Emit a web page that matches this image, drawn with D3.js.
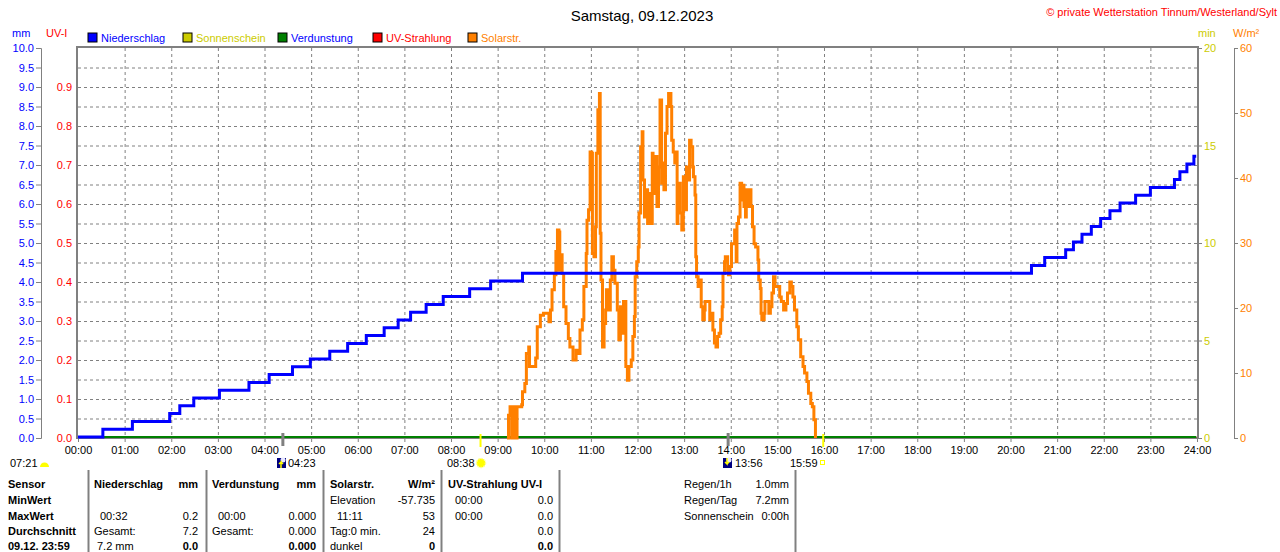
<!DOCTYPE html>
<html>
<head>
<meta charset="utf-8">
<title>Samstag, 09.12.2023</title>
<style>
  body { margin: 0; background: #fff; }
  svg { display: block; font-family: "Liberation Sans", Arial, sans-serif; font-size: 11px; }
  .grid line { stroke: #808080; stroke-dasharray: 3,3; }
  .axis path, .axis line { stroke: #808080; }
  .axis text { font-size: 11px; font-family: "Liberation Sans", Arial, sans-serif; }
  .tbl text { font-size: 11px; fill: #000; }
</style>
</head>
<body>
<svg id="chart" width="1280" height="552"></svg>

<script src="https://cdn.jsdelivr.net/npm/d3@7/dist/d3.min.js"></script>
<script>
  // Niederschlag, cumulative mm
  const rainTimes = ["00:00", "00:32", "01:10", "01:58", "02:11", "02:29", "03:02", "03:40", "04:06", "04:36",
    "04:59", "05:24", "05:47", "06:11", "06:34", "06:52", "07:08", "07:28", "07:50", "08:24", "08:51", "09:32",
    "20:27", "20:44", "21:11", "21:21", "21:32", "21:44", "21:56", "22:08", "22:21", "22:41", "23:00", "23:31",
    "23:38", "23:47", "23:56", "23:59"];
  const rainValues = [0, 0.2, 0.4, 0.6, 0.8, 1.0, 1.2, 1.4, 1.6, 1.8,
    2.0, 2.2, 2.4, 2.6, 2.8, 3.0, 3.2, 3.4, 3.6, 3.8, 4.0, 4.2,
    4.4, 4.6, 4.8, 5.0, 5.2, 5.4, 5.6, 5.8, 6.0, 6.2, 6.4, 6.6,
    6.8, 7.0, 7.2, 7.2];

  // Solarstrahlung, W/m²
  const solarTimes = ["09:12", "09:14", "09:16", "09:18", "09:20", "09:22", "09:25", "09:31", "09:32", "09:35",
    "09:37", "09:40", "09:41", "09:46", "09:49", "09:51", "09:55", "09:59", "10:04", "10:06",
    "10:08", "10:10", "10:13", "10:15", "10:16", "10:17", "10:19", "10:20", "10:22", "10:23",
    "10:25", "10:28", "10:31", "10:33", "10:37", "10:41", "10:44", "10:46", "10:49", "10:51",
    "10:54", "10:55", "10:57", "10:59", "11:01", "11:02", "11:04", "11:06", "11:07", "11:09",
    "11:11", "11:12", "11:13", "11:15", "11:17", "11:19", "11:20", "11:22", "11:25", "11:27",
    "11:29", "11:31", "11:34", "11:36", "11:38", "11:40", "11:42", "11:44", "11:45", "11:47",
    "11:49", "11:52", "11:54", "11:56", "11:57", "11:59", "12:01", "12:02", "12:04", "12:06",
    "12:07", "12:09", "12:11", "12:13", "12:15", "12:17", "12:19", "12:20", "12:22", "12:25",
    "12:27", "12:29", "12:31", "12:33", "12:34", "12:36", "12:38", "12:40", "12:43", "12:44",
    "12:46", "12:48", "12:50", "12:51", "12:52", "12:55", "12:57", "12:59", "13:01", "13:03",
    "13:05", "13:07", "13:09", "13:11", "13:12", "13:14", "13:15", "13:16", "13:18", "13:20",
    "13:22", "13:24", "13:26", "13:27", "13:31", "13:33", "13:35", "13:37", "13:39", "13:41",
    "13:43", "13:45", "13:47", "13:49", "13:50", "13:52", "13:53", "13:56", "13:57", "13:59",
    "14:01", "14:04", "14:05", "14:07", "14:08", "14:10", "14:12", "14:14", "14:15", "14:17",
    "14:19", "14:20", "14:22", "14:24", "14:26", "14:28", "14:30", "14:32", "14:35", "14:36",
    "14:38", "14:39", "14:40", "14:43", "14:44", "14:47", "14:49", "14:51", "14:53", "14:55",
    "14:57", "15:00", "15:03", "15:05", "15:08", "15:11", "15:13", "15:16", "15:18", "15:20",
    "15:22", "15:25", "15:27", "15:30", "15:33", "15:35", "15:38", "15:40", "15:43", "15:45",
    "15:47", "15:49"];
  const solarValues = [0, 3.5, 4.8, 0, 4.8, 0, 4.8, 5.1, 7.1, 8.4,
    13.0, 14.0, 11.0, 11.0, 12.3, 17.1, 18.9, 19.2, 19.2, 17.9,
    19.7, 22.8, 25.1, 28.7, 25.8, 32.0, 31.7, 25.8, 28.2, 25.3,
    20.2, 17.6, 15.3, 14.0, 12.0, 13.5, 13.0, 16.6, 18.2, 23.3,
    28.4, 33.5, 35.1, 44.0, 43.8, 28.4, 27.9, 32.5, 43.8, 50.5,
    53.0, 31.5, 24.3, 14.0, 17.6, 19.7, 22.8, 19.7, 24.3, 27.9,
    25.8, 23.8, 19.7, 15.1, 20.2, 16.1, 21.0, 21.0, 11.0, 8.9,
    11.0, 12.0, 15.6, 18.7, 24.8, 27.1, 29.4, 34.6, 44.8, 47.1,
    39.7, 34.0, 38.2, 33.0, 37.6, 33.0, 43.8, 37.6, 43.3, 35.6,
    41.7, 52.0, 39.2, 42.3, 38.2, 46.9, 51.0, 53.0, 51.0, 45.8,
    44.0, 42.3, 44.0, 33.0, 39.2, 34.6, 32.0, 40.2, 35.1, 41.7,
    39.7, 45.8, 44.8, 41.7, 40.2, 37.4, 27.9, 24.8, 23.3, 24.3,
    20.2, 18.2, 19.7, 21.0, 21.0, 18.2, 19.2, 16.6, 14.6, 14.0,
    15.6, 16.1, 18.2, 20.2, 25.3, 27.1, 27.9, 25.8, 25.1, 26.4,
    29.9, 29.9, 32.0, 27.1, 33.0, 34.0, 39.2, 36.6, 38.9, 35.6,
    34.0, 38.2, 35.6, 38.2, 35.6, 32.5, 29.9, 29.4, 27.4, 24.3,
    23.0, 19.2, 18.2, 19.2, 21.0, 21.0, 19.2, 20.2, 22.3, 24.8,
    23.3, 23.3, 21.7, 21.0, 19.7, 20.7, 22.3, 24.0, 23.3, 21.7,
    19.7, 17.1, 15.1, 12.5, 11.0, 10.0, 8.7, 6.9, 5.3, 4.8,
    2.8, 0];

  // Verdunstung and UV stay at zero all day
  const evapTimes = ["00:00", "23:59"];
  const evapValues = [0, 0];
  const uvTimes = ["00:00", "23:59"];
  const uvValues = [0, 0];

  // tick labels
  const hourLabels = ["00:00", "01:00", "02:00", "03:00", "04:00", "05:00", "06:00", "07:00", "08:00",
    "09:00", "10:00", "11:00", "12:00", "13:00", "14:00", "15:00", "16:00", "17:00", "18:00",
    "19:00", "20:00", "21:00", "22:00", "23:00", "24:00"];
  const mmTicks = [0, 0.5, 1, 1.5, 2, 2.5, 3, 3.5, 4, 4.5, 5, 5.5, 6, 6.5, 7, 7.5, 8, 8.5, 9, 9.5, 10];
  const uvTicks = [0, 0.1, 0.2, 0.3, 0.4, 0.5, 0.6, 0.7, 0.8, 0.9];
  const minTicks = [0, 5, 10, 15, 20];
  const wTicks = [0, 10, 20, 30, 40, 50, 60];

  // legend
  const legendNames = ["Niederschlag", "Sonnenschein", "Verdunstung", "UV-Strahlung", "Solarstr."];
  const legendBoxColors = ["#0000ff", "#cccc00", "#008000", "#ff0000", "#ff8000"];
  const legendTextColors = ["#0000ff", "#cccc00", "#0000ff", "#ff0000", "#ff8000"];

  // sun / moon events
  const moonTimes = ["04:23", "13:56"];
  const sunTimes = ["08:38", "15:59"];

  const toMin = t => { const p = t.split(":").map(Number); return p[0] * 60 + p[1]; };

  const svg = d3.select("#chart");
  const pLeft = 78, pRight = 1197, pTop = 48, pBottom = 438;

  const x = d3.scaleLinear().domain([0, 1440]).range([pLeft, pRight]);
  const yMm = d3.scaleLinear().domain([0, 10]).range([pBottom, pTop]);
  const yUv = d3.scaleLinear().domain([0, 1]).range([pBottom, pTop]);
  const yMin = d3.scaleLinear().domain([0, 20]).range([pBottom, pTop]);
  const yW = d3.scaleLinear().domain([0, 60]).range([pBottom, pTop]);

  // title and credit
  svg.append("text").attr("x", 642).attr("y", 21).attr("text-anchor", "middle")
     .style("font-size", "15px").text("Samstag, 09.12.2023");
  svg.append("text").attr("x", 1277).attr("y", 16).attr("text-anchor", "end")
     .attr("fill", "#ff0000").style("font-size", "11px")
     .text("© private Wetterstation Tinnum/Westerland/Sylt");

  // unit labels
  svg.append("text").attr("x", 12).attr("y", 37).attr("fill", "#0000ff").text("mm");
  svg.append("text").attr("x", 46).attr("y", 37).attr("fill", "#ff0000").text("UV-I");
  svg.append("text").attr("x", 1198).attr("y", 37).attr("fill", "#cccc00").text("min");
  svg.append("text").attr("x", 1233).attr("y", 37).attr("fill", "#ff8000").text("W/m²");

  // legend
  const legendX = [88, 183, 278, 373, 468];
  const legend = svg.append("g");
  legendNames.forEach((name, i) => {
    legend.append("rect").attr("x", legendX[i]).attr("y", 33).attr("width", 9).attr("height", 9)
          .attr("fill", legendBoxColors[i]).attr("stroke", "#000").attr("stroke-width", 1);
    legend.append("text").attr("x", legendX[i] + 13).attr("y", 42)
          .attr("fill", legendTextColors[i]).text(name);
  });

  // grid
  const grid = svg.append("g").attr("class", "grid");
  grid.selectAll(".h").data(mmTicks.slice(1, -1)).enter().append("line")
      .attr("x1", pLeft).attr("x2", pRight)
      .attr("y1", d => yMm(d) + 0.5).attr("y2", d => yMm(d) + 0.5);
  grid.selectAll(".v").data(hourLabels.slice(1, -1)).enter().append("line")
      .attr("x1", d => x(toMin(d)) + 0.5).attr("x2", d => x(toMin(d)) + 0.5)
      .attr("y1", pTop).attr("y2", pBottom);

  // left axes
  svg.append("g").attr("class", "axis").attr("transform", "translate(41,0)")
     .call(d3.axisLeft(yMm).tickValues(mmTicks).tickFormat(d3.format(".1f")).tickSize(5).tickSizeOuter(5).tickPadding(2))
     .selectAll("text").attr("fill", "#0000ff");
  const uvAxis = svg.append("g").attr("class", "axis").attr("transform", "translate(73,0)")
     .call(d3.axisLeft(yUv).tickValues(uvTicks).tickFormat(d3.format(".1f")).tickSize(0).tickPadding(1));
  uvAxis.select(".domain").remove();
  uvAxis.selectAll("text").attr("fill", "#ff0000");

  // right axes
  svg.append("g").attr("class", "axis").attr("transform", `translate(${pRight},0)`)
     .call(d3.axisRight(yMin).tickValues(minTicks).tickSize(5).tickSizeOuter(0).tickPadding(2))
     .selectAll("text").attr("fill", "#cccc00");
  svg.append("g").attr("class", "axis").attr("transform", "translate(1234,0)")
     .call(d3.axisRight(yW).tickValues(wTicks).tickSize(4).tickSizeOuter(4).tickPadding(2))
     .selectAll("text").attr("fill", "#ff8000");

  // x axis
  const xAxis = svg.append("g").attr("class", "axis").attr("transform", `translate(0,${pBottom})`)
     .call(d3.axisBottom(x).tickValues(hourLabels.map(toMin)).tickFormat((d, i) => hourLabels[i])
       .tickSize(4).tickSizeOuter(0).tickPadding(4));
  xAxis.select(".domain").remove();
  xAxis.selectAll("text").attr("fill", "#000");

  // plot frame
  svg.append("rect").attr("x", pLeft - 1).attr("y", pTop - 1)
     .attr("width", pRight - pLeft + 2).attr("height", pBottom - pTop + 1)
     .attr("fill", "none").attr("stroke", "#808080").attr("stroke-width", 2);

  // series
  const rainData = rainTimes.map((t, i) => ({ m: toMin(t), v: rainValues[i] }));
  const solarData = solarTimes.map((t, i) => ({ m: toMin(t), v: solarValues[i] }));
  const evapData = evapTimes.map((t, i) => ({ m: toMin(t), v: evapValues[i] }));
  const uvData = uvTimes.map((t, i) => ({ m: toMin(t), v: uvValues[i] }));

  svg.append("path").datum(uvData)
     .attr("d", d3.line().x(d => x(d.m)).y(d => yUv(d.v) - 1))
     .attr("fill", "none").attr("stroke", "#ff0000").attr("stroke-width", 2);
  svg.append("path").datum(evapData)
     .attr("d", d3.line().x(d => x(d.m)).y(d => yMm(d.v) - 1))
     .attr("fill", "none").attr("stroke", "#008000").attr("stroke-width", 2);

  svg.append("path").datum(solarData)
     .attr("d", d3.line().x(d => x(d.m)).y(d => yW(d.v)).curve(d3.curveStepAfter))
     .attr("fill", "none").attr("stroke", "#ff8000").attr("stroke-width", 3);

  svg.append("path").datum(rainData)
     .attr("d", d3.line().x(d => x(d.m)).y(d => yMm(d.v) - 1).curve(d3.curveStepAfter))
     .attr("fill", "none").attr("stroke", "#0000ff").attr("stroke-width", 3);

  // sun and moon markers on the time axis
  svg.selectAll(".moonTick").data(moonTimes).enter().append("rect")
     .attr("x", d => x(toMin(d)) - 1).attr("y", 433).attr("width", 3).attr("height", 13)
     .attr("fill", "#808080");
  svg.selectAll(".sunTick").data(sunTimes).enter().append("rect")
     .attr("x", d => x(toMin(d)) - 1).attr("y", 434).attr("width", 2).attr("height", 13)
     .attr("fill", "#ffff00");

  const ev = svg.append("g");
  const moonIcon = (px, up) => {
    ev.append("rect").attr("x", px).attr("y", 458).attr("width", 9).attr("height", 10).attr("fill", "#000080");
    ev.append("circle").attr("cx", px + 6).attr("cy", 460).attr("r", 2.5).attr("fill", "#e8e8ff");
    ev.append("path").attr("d", up
        ? `M${px + 4},468 L${px + 4},462 L${px + 2},464 M${px + 4},462 L${px + 6},464`
        : `M${px + 4},458 L${px + 4},464 L${px + 2},462 M${px + 4},464 L${px + 6},462`)
      .attr("stroke", "#ffff00").attr("stroke-width", 1.5).attr("fill", "none");
  };
  const sunIcon = (cx, cy) => {
    ev.append("circle").attr("cx", cx).attr("cy", cy).attr("r", 4.5).attr("fill", "#ffff00")
      .attr("stroke", "#ffff99").attr("stroke-width", 1.5).attr("stroke-dasharray", "1.5,1.5");
  };

  ev.append("text").attr("x", 10).attr("y", 467).text("07:21");
  ev.append("path").attr("d", "M40,467 A4.5,4.5 0 0 1 49,467 Z").attr("fill", "#ffff00");
  moonIcon(277, true);
  ev.append("text").attr("x", 288).attr("y", 467).text(moonTimes[0]);
  ev.append("text").attr("x", 447).attr("y", 467).text(sunTimes[0]);
  sunIcon(481, 463);
  moonIcon(723, false);
  ev.append("text").attr("x", 735).attr("y", 467).text(moonTimes[1]);
  ev.append("text").attr("x", 790).attr("y", 467).text(sunTimes[1]);
  ev.append("rect").attr("x", 820.5).attr("y", 460.5).attr("width", 4).attr("height", 4)
    .attr("fill", "none").attr("stroke", "#ffff00");

  // summary table
  const rowY = [488, 504, 520, 535, 550];
  const tbl = svg.append("g").attr("class", "tbl");
  const cell = (px, row, txt, anchor, bold) => {
    tbl.append("text").attr("x", px).attr("y", rowY[row])
       .attr("text-anchor", anchor || "start")
       .style("font-weight", bold ? "bold" : "normal").text(txt);
  };
  [88, 206, 323, 441, 559, 795].forEach(sx => {
    tbl.append("line").attr("x1", sx + 0.5).attr("x2", sx + 0.5).attr("y1", 470).attr("y2", 552)
       .attr("stroke", "#808080").attr("stroke-width", 2);
  });

  ["Sensor", "MinWert", "MaxWert", "Durchschnitt", "09.12. 23:59"].forEach((t, i) => cell(8, i, t, "start", true));

  cell(94, 0, "Niederschlag", "start", true); cell(198, 0, "mm", "end", true);
  cell(100, 2, "00:32"); cell(198, 2, "0.2", "end");
  cell(94, 3, "Gesamt:"); cell(198, 3, "7.2", "end");
  cell(97, 4, "7.2 mm"); cell(198, 4, "0.0", "end", true);

  cell(212, 0, "Verdunstung", "start", true); cell(316, 0, "mm", "end", true);
  cell(218, 2, "00:00"); cell(316, 2, "0.000", "end");
  cell(212, 3, "Gesamt:"); cell(316, 3, "0.000", "end");
  cell(316, 4, "0.000", "end", true);

  cell(330, 0, "Solarstr.", "start", true); cell(435, 0, "W/m²", "end", true);
  cell(330, 1, "Elevation"); cell(435, 1, "-57.735", "end");
  cell(337, 2, "11:11"); cell(435, 2, "53", "end");
  cell(330, 3, "Tag:0 min."); cell(435, 3, "24", "end");
  cell(330, 4, "dunkel"); cell(435, 4, "0", "end", true);

  cell(448, 0, "UV-Strahlung UV-I", "start", true);
  cell(455, 1, "00:00"); cell(553, 1, "0.0", "end");
  cell(455, 2, "00:00"); cell(553, 2, "0.0", "end");
  cell(553, 3, "0.0", "end");
  cell(553, 4, "0.0", "end", true);

  cell(684, 0, "Regen/1h"); cell(789, 0, "1.0mm", "end");
  cell(684, 1, "Regen/Tag"); cell(789, 1, "7.2mm", "end");
  cell(684, 2, "Sonnenschein"); cell(789, 2, "0:00h", "end");
</script>
</body>
</html>
